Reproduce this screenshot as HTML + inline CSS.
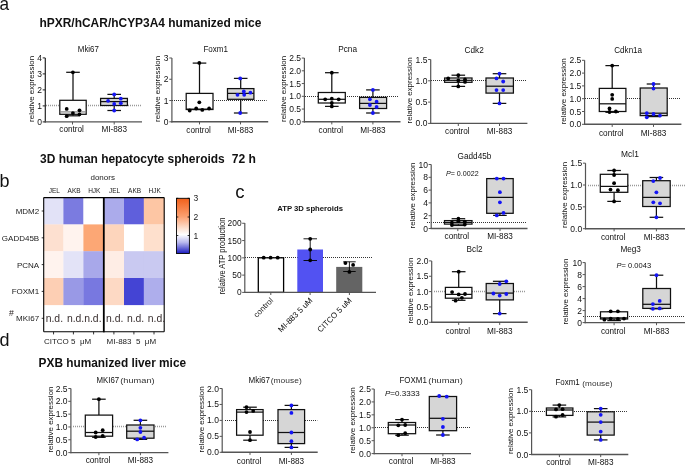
<!DOCTYPE html>
<html><head><meta charset="utf-8"><title>Figure</title>
<style>
html,body{margin:0;padding:0;background:#fff;}
body{width:685px;height:465px;overflow:hidden;}
svg{display:block;will-change:transform;font-family:"Liberation Sans",sans-serif;}
</style></head><body>
<svg width="685" height="465" viewBox="0 0 685 465" fill="#111">
<rect width="685" height="465" fill="#fff"/>
<text x="-0.4" y="10.1" font-size="18.6" textLength="9.6" lengthAdjust="spacingAndGlyphs">a</text>
<text x="39.5" y="26.9" font-size="12" textLength="221.8" lengthAdjust="spacingAndGlyphs" font-weight="bold">hPXR/hCAR/hCYP3A4 humanized mice</text>
<line x1="46" y1="105.5" x2="141" y2="105.5" stroke="#999" stroke-width="1.5" stroke-dasharray="1 1"/>
<line x1="73" y1="72.3" x2="73" y2="100.3" stroke="#111" stroke-width="1.25"/>
<line x1="73" y1="114.3" x2="73" y2="115.8" stroke="#111" stroke-width="1.25"/>
<line x1="66.2" y1="72.3" x2="79.8" y2="72.3" stroke="#111" stroke-width="1.25"/>
<line x1="66.2" y1="115.8" x2="79.8" y2="115.8" stroke="#111" stroke-width="1.25"/>
<rect x="59.8" y="100.3" width="26.4" height="14" fill="#fff" stroke="#111" stroke-width="1.25"/>
<line x1="59.8" y1="111.9" x2="86.2" y2="111.9" stroke="#888" stroke-width="1.25"/>
<circle cx="66.7" cy="108.9" r="1.9" fill="#000"/>
<circle cx="72.9" cy="72.3" r="1.9" fill="#000"/>
<circle cx="72.9" cy="113.1" r="1.9" fill="#000"/>
<circle cx="79.5" cy="110.3" r="1.9" fill="#000"/>
<circle cx="79.5" cy="114.3" r="1.9" fill="#000"/>
<circle cx="66.7" cy="116.2" r="1.9" fill="#000"/>
<line x1="114.2" y1="94.4" x2="114.2" y2="98.4" stroke="#111" stroke-width="1.25"/>
<line x1="114.2" y1="105.5" x2="114.2" y2="110.5" stroke="#111" stroke-width="1.25"/>
<line x1="107.4" y1="94.4" x2="121" y2="94.4" stroke="#111" stroke-width="1.25"/>
<line x1="107.4" y1="110.5" x2="121" y2="110.5" stroke="#111" stroke-width="1.25"/>
<rect x="100.6" y="98.4" width="26.8" height="7.1" fill="#d6d6d6" stroke="#111" stroke-width="1.25"/>
<line x1="100.6" y1="101.6" x2="127.4" y2="101.6" stroke="#111" stroke-width="1.25"/>
<circle cx="114.2" cy="94.4" r="1.9" fill="#1515f5"/>
<circle cx="108.1" cy="100.8" r="1.9" fill="#1515f5"/>
<circle cx="120.8" cy="98.7" r="1.9" fill="#1515f5"/>
<circle cx="120.8" cy="103.2" r="1.9" fill="#1515f5"/>
<circle cx="114.2" cy="103.9" r="1.9" fill="#1515f5"/>
<circle cx="114.2" cy="110.5" r="1.9" fill="#1515f5"/>
<line x1="45.3" y1="57.9" x2="45.3" y2="122.5" stroke="#222" stroke-width="1.2"/>
<line x1="42.7" y1="121.9" x2="45.3" y2="121.9" stroke="#222" stroke-width="1"/>
<text x="42" y="124.9" font-size="8.5" text-anchor="end">0</text>
<line x1="42.7" y1="105.9" x2="45.3" y2="105.9" stroke="#222" stroke-width="1"/>
<text x="42" y="108.9" font-size="8.5" text-anchor="end">1</text>
<line x1="42.7" y1="89.9" x2="45.3" y2="89.9" stroke="#222" stroke-width="1"/>
<text x="42" y="92.9" font-size="8.5" text-anchor="end">2</text>
<line x1="42.7" y1="73.9" x2="45.3" y2="73.9" stroke="#222" stroke-width="1"/>
<text x="42" y="76.9" font-size="8.5" text-anchor="end">3</text>
<line x1="42.7" y1="57.9" x2="45.3" y2="57.9" stroke="#222" stroke-width="1"/>
<text x="42" y="60.9" font-size="8.5" text-anchor="end">4</text>
<line x1="44.7" y1="121.9" x2="142" y2="121.9" stroke="#555" stroke-width="1.4"/>
<text x="34.2" y="88.9" font-size="8.1" textLength="66" lengthAdjust="spacingAndGlyphs" text-anchor="middle" transform="rotate(-90 34.2 88.9)">relative expression</text>
<text x="77.8" y="51.8" font-size="8.5" textLength="21.1" lengthAdjust="spacingAndGlyphs">Mki67</text>
<line x1="72.5" y1="121.9" x2="72.5" y2="124.5" stroke="#555" stroke-width="1"/>
<text x="71.6" y="132.4" font-size="8.2" text-anchor="middle">control</text>
<line x1="114.2" y1="121.9" x2="114.2" y2="124.5" stroke="#555" stroke-width="1"/>
<text x="114.2" y="132.4" font-size="8.2" text-anchor="middle">MI-883</text>
<line x1="172" y1="100.5" x2="266.6" y2="100.5" stroke="#333" stroke-width="1.05" stroke-dasharray="1 1"/>
<line x1="199.5" y1="63.1" x2="199.5" y2="93.4" stroke="#111" stroke-width="1.25"/>
<line x1="199.5" y1="109.5" x2="199.5" y2="109.5" stroke="#111" stroke-width="1.25"/>
<line x1="192.7" y1="63.1" x2="206.3" y2="63.1" stroke="#111" stroke-width="1.25"/>
<line x1="192.7" y1="109.5" x2="206.3" y2="109.5" stroke="#111" stroke-width="1.25"/>
<rect x="186.2" y="93.4" width="26.8" height="16.1" fill="#fff" stroke="#111" stroke-width="1.25"/>
<line x1="186.2" y1="109.2" x2="213" y2="109.2" stroke="#111" stroke-width="1.25"/>
<circle cx="189.7" cy="110.5" r="1.9" fill="#000"/>
<circle cx="196.2" cy="108.5" r="1.9" fill="#000"/>
<circle cx="199.3" cy="102.3" r="1.9" fill="#000"/>
<circle cx="202.3" cy="109.9" r="1.9" fill="#000"/>
<circle cx="209.1" cy="108.5" r="1.9" fill="#000"/>
<circle cx="199.3" cy="62.9" r="1.9" fill="#000"/>
<line x1="240.7" y1="78.4" x2="240.7" y2="88.6" stroke="#111" stroke-width="1.25"/>
<line x1="240.7" y1="99.3" x2="240.7" y2="113" stroke="#111" stroke-width="1.25"/>
<line x1="233.9" y1="78.4" x2="247.5" y2="78.4" stroke="#111" stroke-width="1.25"/>
<line x1="233.9" y1="113" x2="247.5" y2="113" stroke="#111" stroke-width="1.25"/>
<rect x="227.5" y="88.6" width="26.4" height="10.7" fill="#d6d6d6" stroke="#111" stroke-width="1.25"/>
<line x1="227.5" y1="93.4" x2="253.9" y2="93.4" stroke="#111" stroke-width="1.25"/>
<circle cx="240.2" cy="78.4" r="1.9" fill="#1515f5"/>
<circle cx="237.5" cy="94.8" r="1.9" fill="#1515f5"/>
<circle cx="243.8" cy="91.5" r="1.9" fill="#1515f5"/>
<circle cx="244.2" cy="94.8" r="1.9" fill="#1515f5"/>
<circle cx="250.4" cy="92.7" r="1.9" fill="#1515f5"/>
<circle cx="240.2" cy="113" r="1.9" fill="#1515f5"/>
<line x1="171.9" y1="57.99" x2="171.9" y2="122.4" stroke="#555" stroke-width="1.2"/>
<line x1="169.3" y1="121.8" x2="171.9" y2="121.8" stroke="#555" stroke-width="1"/>
<text x="168.6" y="124.8" font-size="8.5" text-anchor="end">0</text>
<line x1="169.3" y1="100.53" x2="171.9" y2="100.53" stroke="#555" stroke-width="1"/>
<text x="168.6" y="103.53" font-size="8.5" text-anchor="end">1</text>
<line x1="169.3" y1="79.26" x2="171.9" y2="79.26" stroke="#555" stroke-width="1"/>
<text x="168.6" y="82.26" font-size="8.5" text-anchor="end">2</text>
<line x1="169.3" y1="57.99" x2="171.9" y2="57.99" stroke="#555" stroke-width="1"/>
<text x="168.6" y="60.99" font-size="8.5" text-anchor="end">3</text>
<line x1="171.3" y1="121.8" x2="268.2" y2="121.8" stroke="#555" stroke-width="1.4"/>
<text x="159.9" y="88.89" font-size="8.1" textLength="66" lengthAdjust="spacingAndGlyphs" text-anchor="middle" transform="rotate(-90 159.9 88.89)">relative expression</text>
<text x="203.4" y="51.7" font-size="8.5" textLength="24.5" lengthAdjust="spacingAndGlyphs">Foxm1</text>
<line x1="199.5" y1="121.8" x2="199.5" y2="124.4" stroke="#555" stroke-width="1"/>
<text x="198.6" y="132.6" font-size="8.2" text-anchor="middle">control</text>
<line x1="240.5" y1="121.8" x2="240.5" y2="124.4" stroke="#555" stroke-width="1"/>
<text x="240.5" y="132.6" font-size="8.2" text-anchor="middle">MI-883</text>
<line x1="305" y1="96.5" x2="399" y2="96.5" stroke="#333" stroke-width="1.05" stroke-dasharray="1 1"/>
<line x1="331.8" y1="72.7" x2="331.8" y2="92.5" stroke="#111" stroke-width="1.25"/>
<line x1="331.8" y1="103" x2="331.8" y2="106.4" stroke="#111" stroke-width="1.25"/>
<line x1="325" y1="72.7" x2="338.6" y2="72.7" stroke="#111" stroke-width="1.25"/>
<line x1="325" y1="106.4" x2="338.6" y2="106.4" stroke="#111" stroke-width="1.25"/>
<rect x="318.3" y="92.5" width="27" height="10.5" fill="#fff" stroke="#111" stroke-width="1.25"/>
<line x1="318.3" y1="99.3" x2="345.3" y2="99.3" stroke="#111" stroke-width="1.25"/>
<circle cx="331.8" cy="72.7" r="1.9" fill="#000"/>
<circle cx="325.2" cy="99.3" r="1.9" fill="#000"/>
<circle cx="331.8" cy="98.7" r="1.9" fill="#000"/>
<circle cx="338.7" cy="99.3" r="1.9" fill="#000"/>
<circle cx="331.8" cy="103" r="1.9" fill="#000"/>
<circle cx="331.8" cy="106.4" r="1.9" fill="#000"/>
<line x1="372.9" y1="89.9" x2="372.9" y2="97.4" stroke="#111" stroke-width="1.25"/>
<line x1="372.9" y1="108.5" x2="372.9" y2="113" stroke="#111" stroke-width="1.25"/>
<line x1="366.1" y1="89.9" x2="379.7" y2="89.9" stroke="#111" stroke-width="1.25"/>
<line x1="366.1" y1="113" x2="379.7" y2="113" stroke="#111" stroke-width="1.25"/>
<rect x="359.6" y="97.4" width="27" height="11.1" fill="#d6d6d6" stroke="#111" stroke-width="1.25"/>
<line x1="359.6" y1="103.4" x2="386.6" y2="103.4" stroke="#111" stroke-width="1.25"/>
<circle cx="372.9" cy="89.9" r="1.9" fill="#1515f5"/>
<circle cx="369.9" cy="99.3" r="1.9" fill="#1515f5"/>
<circle cx="376.6" cy="101.7" r="1.9" fill="#1515f5"/>
<circle cx="369.9" cy="105" r="1.9" fill="#1515f5"/>
<circle cx="376.6" cy="107" r="1.9" fill="#1515f5"/>
<circle cx="372.9" cy="113" r="1.9" fill="#1515f5"/>
<line x1="304.4" y1="58.05" x2="304.4" y2="122.4" stroke="#555" stroke-width="1.2"/>
<line x1="301.8" y1="121.8" x2="304.4" y2="121.8" stroke="#555" stroke-width="1"/>
<text x="301.1" y="124.8" font-size="8.5" text-anchor="end">0.0</text>
<line x1="301.8" y1="109.05" x2="304.4" y2="109.05" stroke="#555" stroke-width="1"/>
<text x="301.1" y="112.05" font-size="8.5" text-anchor="end">0.5</text>
<line x1="301.8" y1="96.3" x2="304.4" y2="96.3" stroke="#555" stroke-width="1"/>
<text x="301.1" y="99.3" font-size="8.5" text-anchor="end">1.0</text>
<line x1="301.8" y1="83.55" x2="304.4" y2="83.55" stroke="#555" stroke-width="1"/>
<text x="301.1" y="86.55" font-size="8.5" text-anchor="end">1.5</text>
<line x1="301.8" y1="70.8" x2="304.4" y2="70.8" stroke="#555" stroke-width="1"/>
<text x="301.1" y="73.8" font-size="8.5" text-anchor="end">2.0</text>
<line x1="301.8" y1="58.05" x2="304.4" y2="58.05" stroke="#555" stroke-width="1"/>
<text x="301.1" y="61.05" font-size="8.5" text-anchor="end">2.5</text>
<line x1="303.8" y1="121.8" x2="400.5" y2="121.8" stroke="#555" stroke-width="1.4"/>
<text x="285.9" y="88.92" font-size="8.1" textLength="66" lengthAdjust="spacingAndGlyphs" text-anchor="middle" transform="rotate(-90 285.9 88.92)">relative expression</text>
<text x="338.2" y="51.7" font-size="8.5" textLength="18.8" lengthAdjust="spacingAndGlyphs">Pcna</text>
<line x1="331.8" y1="121.8" x2="331.8" y2="124.4" stroke="#555" stroke-width="1"/>
<text x="330.9" y="132.5" font-size="8.2" text-anchor="middle">control</text>
<line x1="372.9" y1="121.8" x2="372.9" y2="124.4" stroke="#555" stroke-width="1"/>
<text x="372.9" y="132.5" font-size="8.2" text-anchor="middle">MI-883</text>
<line x1="431" y1="80.5" x2="526" y2="80.5" stroke="#333" stroke-width="1.05" stroke-dasharray="1 1"/>
<line x1="458.3" y1="75.2" x2="458.3" y2="78" stroke="#111" stroke-width="1.25"/>
<line x1="458.3" y1="82.3" x2="458.3" y2="86.4" stroke="#111" stroke-width="1.25"/>
<line x1="451.5" y1="75.2" x2="465.1" y2="75.2" stroke="#111" stroke-width="1.25"/>
<line x1="451.5" y1="86.4" x2="465.1" y2="86.4" stroke="#111" stroke-width="1.25"/>
<rect x="444.6" y="78" width="27.4" height="4.3" fill="#fff" stroke="#111" stroke-width="1.25"/>
<line x1="444.6" y1="80.3" x2="472" y2="80.3" stroke="#111" stroke-width="1.25"/>
<circle cx="448.2" cy="78.4" r="1.9" fill="#000"/>
<circle cx="458.3" cy="75.2" r="1.9" fill="#000"/>
<circle cx="458.3" cy="80.5" r="1.9" fill="#000"/>
<circle cx="465" cy="79.5" r="1.9" fill="#000"/>
<circle cx="465" cy="81.9" r="1.9" fill="#000"/>
<circle cx="458.3" cy="86.4" r="1.9" fill="#000"/>
<line x1="499.5" y1="73.7" x2="499.5" y2="78" stroke="#111" stroke-width="1.25"/>
<line x1="499.5" y1="93.1" x2="499.5" y2="103.4" stroke="#111" stroke-width="1.25"/>
<line x1="492.7" y1="73.7" x2="506.3" y2="73.7" stroke="#111" stroke-width="1.25"/>
<line x1="492.7" y1="103.4" x2="506.3" y2="103.4" stroke="#111" stroke-width="1.25"/>
<rect x="486" y="78" width="27.4" height="15.1" fill="#d6d6d6" stroke="#111" stroke-width="1.25"/>
<line x1="486" y1="86.2" x2="513.4" y2="86.2" stroke="#111" stroke-width="1.25"/>
<circle cx="499.5" cy="73.7" r="1.9" fill="#1515f5"/>
<circle cx="496.5" cy="78.4" r="1.9" fill="#1515f5"/>
<circle cx="503.2" cy="81.5" r="1.9" fill="#1515f5"/>
<circle cx="496.5" cy="90.1" r="1.9" fill="#1515f5"/>
<circle cx="503.2" cy="90.1" r="1.9" fill="#1515f5"/>
<circle cx="499.5" cy="103.4" r="1.9" fill="#1515f5"/>
<line x1="430.7" y1="59.5" x2="430.7" y2="124" stroke="#555" stroke-width="1.2"/>
<line x1="428.1" y1="123.4" x2="430.7" y2="123.4" stroke="#555" stroke-width="1"/>
<text x="427.4" y="126.4" font-size="8.5" text-anchor="end">0.0</text>
<line x1="428.1" y1="102.1" x2="430.7" y2="102.1" stroke="#555" stroke-width="1"/>
<text x="427.4" y="105.1" font-size="8.5" text-anchor="end">0.5</text>
<line x1="428.1" y1="80.8" x2="430.7" y2="80.8" stroke="#555" stroke-width="1"/>
<text x="427.4" y="83.8" font-size="8.5" text-anchor="end">1.0</text>
<line x1="428.1" y1="59.5" x2="430.7" y2="59.5" stroke="#555" stroke-width="1"/>
<text x="427.4" y="62.5" font-size="8.5" text-anchor="end">1.5</text>
<line x1="430.1" y1="123.4" x2="527.4" y2="123.4" stroke="#555" stroke-width="1.4"/>
<text x="412.1" y="90.45" font-size="8.1" textLength="66" lengthAdjust="spacingAndGlyphs" text-anchor="middle" transform="rotate(-90 412.1 90.45)">relative expression</text>
<text x="464.6" y="52.7" font-size="8.5" textLength="19.2" lengthAdjust="spacingAndGlyphs">Cdk2</text>
<line x1="458.3" y1="123.4" x2="458.3" y2="126" stroke="#555" stroke-width="1"/>
<text x="457.4" y="133.6" font-size="8.2" text-anchor="middle">control</text>
<line x1="499.5" y1="123.4" x2="499.5" y2="126" stroke="#555" stroke-width="1"/>
<text x="499.5" y="133.6" font-size="8.2" text-anchor="middle">MI-883</text>
<line x1="585" y1="98.5" x2="680" y2="98.5" stroke="#333" stroke-width="1.05" stroke-dasharray="1 1"/>
<line x1="612.2" y1="65.6" x2="612.2" y2="88.4" stroke="#111" stroke-width="1.25"/>
<line x1="612.2" y1="111.5" x2="612.2" y2="112.3" stroke="#111" stroke-width="1.25"/>
<line x1="605.4" y1="65.6" x2="619" y2="65.6" stroke="#111" stroke-width="1.25"/>
<line x1="605.4" y1="112.3" x2="619" y2="112.3" stroke="#111" stroke-width="1.25"/>
<rect x="599.3" y="88.4" width="26.6" height="23.1" fill="#fff" stroke="#111" stroke-width="1.25"/>
<line x1="599.3" y1="103.8" x2="625.9" y2="103.8" stroke="#111" stroke-width="1.25"/>
<circle cx="612.2" cy="65.6" r="1.9" fill="#000"/>
<circle cx="612.2" cy="94.8" r="1.9" fill="#000"/>
<circle cx="612.2" cy="98.9" r="1.9" fill="#000"/>
<circle cx="609.5" cy="108.5" r="1.9" fill="#000"/>
<circle cx="609.5" cy="112" r="1.9" fill="#000"/>
<circle cx="615.9" cy="111.5" r="1.9" fill="#000"/>
<line x1="653.5" y1="84" x2="653.5" y2="88" stroke="#111" stroke-width="1.25"/>
<line x1="653.5" y1="115.6" x2="653.5" y2="116.6" stroke="#111" stroke-width="1.25"/>
<line x1="646.7" y1="84" x2="660.3" y2="84" stroke="#111" stroke-width="1.25"/>
<line x1="646.7" y1="116.6" x2="660.3" y2="116.6" stroke="#111" stroke-width="1.25"/>
<rect x="640.2" y="88" width="27" height="27.6" fill="#d6d6d6" stroke="#111" stroke-width="1.25"/>
<line x1="640.2" y1="113.2" x2="667.2" y2="113.2" stroke="#111" stroke-width="1.25"/>
<circle cx="653.5" cy="84" r="1.9" fill="#1515f5"/>
<circle cx="653.5" cy="88.6" r="1.9" fill="#1515f5"/>
<circle cx="646.8" cy="113.2" r="1.9" fill="#1515f5"/>
<circle cx="653.5" cy="114" r="1.9" fill="#1515f5"/>
<circle cx="660" cy="115.6" r="1.9" fill="#1515f5"/>
<circle cx="646.8" cy="117.3" r="1.9" fill="#1515f5"/>
<line x1="584.6" y1="60.3" x2="584.6" y2="124.9" stroke="#555" stroke-width="1.2"/>
<line x1="582" y1="124.3" x2="584.6" y2="124.3" stroke="#555" stroke-width="1"/>
<text x="581.3" y="127.3" font-size="8.5" text-anchor="end">0.0</text>
<line x1="582" y1="111.5" x2="584.6" y2="111.5" stroke="#555" stroke-width="1"/>
<text x="581.3" y="114.5" font-size="8.5" text-anchor="end">0.5</text>
<line x1="582" y1="98.7" x2="584.6" y2="98.7" stroke="#555" stroke-width="1"/>
<text x="581.3" y="101.7" font-size="8.5" text-anchor="end">1.0</text>
<line x1="582" y1="85.9" x2="584.6" y2="85.9" stroke="#555" stroke-width="1"/>
<text x="581.3" y="88.9" font-size="8.5" text-anchor="end">1.5</text>
<line x1="582" y1="73.1" x2="584.6" y2="73.1" stroke="#555" stroke-width="1"/>
<text x="581.3" y="76.1" font-size="8.5" text-anchor="end">2.0</text>
<line x1="582" y1="60.3" x2="584.6" y2="60.3" stroke="#555" stroke-width="1"/>
<text x="581.3" y="63.3" font-size="8.5" text-anchor="end">2.5</text>
<line x1="584" y1="124.3" x2="681.4" y2="124.3" stroke="#555" stroke-width="1.4"/>
<text x="566.1" y="91.3" font-size="8.1" textLength="66" lengthAdjust="spacingAndGlyphs" text-anchor="middle" transform="rotate(-90 566.1 91.3)">relative expression</text>
<text x="614.3" y="52.7" font-size="8.5" textLength="27.8" lengthAdjust="spacingAndGlyphs">Cdkn1a</text>
<line x1="612.2" y1="124.3" x2="612.2" y2="126.9" stroke="#555" stroke-width="1"/>
<text x="611.3" y="135.7" font-size="8.2" text-anchor="middle">control</text>
<line x1="653.5" y1="124.3" x2="653.5" y2="126.9" stroke="#555" stroke-width="1"/>
<text x="653.5" y="135.7" font-size="8.2" text-anchor="middle">MI-883</text>
<text x="-0.4" y="186.8" font-size="18">b</text>
<text x="40.1" y="163" font-size="12" textLength="184.6" lengthAdjust="spacingAndGlyphs" font-weight="bold">3D human hepatocyte spheroids</text>
<text x="231.8" y="163" font-size="12" textLength="24.2" lengthAdjust="spacingAndGlyphs" font-weight="bold">72 h</text>
<rect x="43.7" y="197.6" width="20" height="27.1" fill="#e2e2f7"/>
<rect x="63.4" y="197.6" width="20.3" height="27.1" fill="#7b7be0"/>
<rect x="83.4" y="197.6" width="20.7" height="27.1" fill="#ffffff"/>
<rect x="103.8" y="197.6" width="20.5" height="27.1" fill="#ababeb"/>
<rect x="124" y="197.6" width="20.1" height="27.1" fill="#5f5fdc"/>
<rect x="143.8" y="197.6" width="20.7" height="27.1" fill="#fdc6a4"/>
<rect x="43.7" y="224.4" width="20" height="27.1" fill="#fde0d0"/>
<rect x="63.4" y="224.4" width="20.3" height="27.1" fill="#fff3ee"/>
<rect x="83.4" y="224.4" width="20.7" height="27.1" fill="#fca775"/>
<rect x="103.8" y="224.4" width="20.5" height="27.1" fill="#fdd5bc"/>
<rect x="124" y="224.4" width="20.1" height="27.1" fill="#ffffff"/>
<rect x="143.8" y="224.4" width="20.7" height="27.1" fill="#fee0cd"/>
<rect x="43.7" y="251.2" width="20" height="27.1" fill="#fff3ee"/>
<rect x="63.4" y="251.2" width="20.3" height="27.1" fill="#e3e3f7"/>
<rect x="83.4" y="251.2" width="20.7" height="27.1" fill="#a8a8ea"/>
<rect x="103.8" y="251.2" width="20.5" height="27.1" fill="#feede5"/>
<rect x="124" y="251.2" width="20.1" height="27.1" fill="#c9c9f1"/>
<rect x="143.8" y="251.2" width="20.7" height="27.1" fill="#c9c9f1"/>
<rect x="43.7" y="278" width="20" height="27.1" fill="#fdcfb4"/>
<rect x="63.4" y="278" width="20.3" height="27.1" fill="#9999e6"/>
<rect x="83.4" y="278" width="20.7" height="27.1" fill="#7878e0"/>
<rect x="103.8" y="278" width="20.5" height="27.1" fill="#fdd9c4"/>
<rect x="124" y="278" width="20.1" height="27.1" fill="#4444d4"/>
<rect x="143.8" y="278" width="20.7" height="27.1" fill="#aeaeec"/>
<line x1="43.7" y1="197.6" x2="43.7" y2="331.8" stroke="#000" stroke-width="1.1"/>
<line x1="164.2" y1="197.6" x2="164.2" y2="331.8" stroke="#000" stroke-width="1.1"/>
<line x1="43.7" y1="197.6" x2="164.2" y2="197.6" stroke="#000" stroke-width="1.1"/>
<line x1="43.7" y1="331.8" x2="164.2" y2="331.8" stroke="#000" stroke-width="1.1"/>
<line x1="103.8" y1="197.6" x2="103.8" y2="332.3" stroke="#000" stroke-width="1.8"/>
<line x1="41.7" y1="211" x2="43.7" y2="211" stroke="#000" stroke-width="0.8"/>
<text x="39.2" y="213.9" font-size="8" text-anchor="end" fill="#222">MDM2</text>
<line x1="41.7" y1="237.8" x2="43.7" y2="237.8" stroke="#000" stroke-width="0.8"/>
<text x="39.2" y="240.7" font-size="8" text-anchor="end" fill="#222">GADD45B</text>
<line x1="41.7" y1="264.6" x2="43.7" y2="264.6" stroke="#000" stroke-width="0.8"/>
<text x="39.2" y="267.5" font-size="8" text-anchor="end" fill="#222">PCNA</text>
<line x1="41.7" y1="291.4" x2="43.7" y2="291.4" stroke="#000" stroke-width="0.8"/>
<text x="39.2" y="294.3" font-size="8" text-anchor="end" fill="#222">FOXM1</text>
<line x1="41.7" y1="318.3" x2="43.7" y2="318.3" stroke="#000" stroke-width="0.8"/>
<text x="39.2" y="321.2" font-size="8" text-anchor="end" fill="#222">MKI67</text>
<text x="9" y="315.8" font-size="8.7" fill="#2a2222">#</text>
<text x="54.25" y="192.6" font-size="6.5" text-anchor="middle" fill="#222">JEL</text>
<text x="74.1" y="192.6" font-size="6.5" text-anchor="middle" fill="#222">AKB</text>
<text x="94.3" y="192.6" font-size="6.5" text-anchor="middle" fill="#222">HJK</text>
<text x="114.6" y="192.6" font-size="6.5" text-anchor="middle" fill="#222">JEL</text>
<text x="134.6" y="192.6" font-size="6.5" text-anchor="middle" fill="#222">AKB</text>
<text x="154.7" y="192.6" font-size="6.5" text-anchor="middle" fill="#222">HJK</text>
<text x="102.7" y="179.8" font-size="8" text-anchor="middle" fill="#222">donors</text>
<text x="45.7" y="321.9" font-size="10.4" fill="#3a3030">n.d.</text>
<text x="66.9" y="321.9" font-size="10.4" fill="#3a3030">n.d.</text>
<text x="84.2" y="321.9" font-size="10.4" fill="#3a3030">n.d.</text>
<text x="106" y="321.9" font-size="10.4" fill="#3a3030">n.d.</text>
<text x="126.9" y="321.9" font-size="10.4" fill="#3a3030">n.d.</text>
<text x="147.8" y="321.9" font-size="10.4" fill="#3a3030">n.d.</text>
<line x1="53.55" y1="331.8" x2="53.55" y2="334.4" stroke="#000" stroke-width="0.8"/>
<line x1="73.4" y1="331.8" x2="73.4" y2="334.4" stroke="#000" stroke-width="0.8"/>
<line x1="93.6" y1="331.8" x2="93.6" y2="334.4" stroke="#000" stroke-width="0.8"/>
<line x1="113.9" y1="331.8" x2="113.9" y2="334.4" stroke="#000" stroke-width="0.8"/>
<line x1="133.9" y1="331.8" x2="133.9" y2="334.4" stroke="#000" stroke-width="0.8"/>
<line x1="154" y1="331.8" x2="154" y2="334.4" stroke="#000" stroke-width="0.8"/>
<text x="43.9" y="343.6" font-size="8" fill="#222">CITCO 5&#160;&#160;μM</text>
<text x="106.6" y="343.6" font-size="8" fill="#222">MI-883&#160;&#160;5&#160;&#160;μM</text>
<defs><linearGradient id="cb" x1="0" y1="0" x2="0" y2="1"><stop offset="0" stop-color="#f0601a"/><stop offset="0.33" stop-color="#fca070"/><stop offset="0.55" stop-color="#fde3d4"/><stop offset="0.66" stop-color="#ffffff"/><stop offset="0.8" stop-color="#b8b8ee"/><stop offset="1" stop-color="#1a1ac0"/></linearGradient></defs>
<rect x="176.5" y="198.3" width="12.9" height="55.2" fill="url(#cb)" stroke="#000" stroke-width="0.9"/>
<line x1="176.5" y1="198.3" x2="178.3" y2="198.3" stroke="#000" stroke-width="0.8"/>
<line x1="187.6" y1="198.3" x2="189.4" y2="198.3" stroke="#000" stroke-width="0.8"/>
<text x="193.4" y="201.3" font-size="8.5" fill="#222">3</text>
<line x1="176.5" y1="217" x2="178.3" y2="217" stroke="#000" stroke-width="0.8"/>
<line x1="187.6" y1="217" x2="189.4" y2="217" stroke="#000" stroke-width="0.8"/>
<text x="193.4" y="220" font-size="8.5" fill="#222">2</text>
<line x1="176.5" y1="235.5" x2="178.3" y2="235.5" stroke="#000" stroke-width="0.8"/>
<line x1="187.6" y1="235.5" x2="189.4" y2="235.5" stroke="#000" stroke-width="0.8"/>
<text x="193.4" y="238.5" font-size="8.5" fill="#222">1</text>
<text x="235.2" y="198.3" font-size="18.6">c</text>
<text x="277.2" y="210.9" font-size="7.6" textLength="65.8" lengthAdjust="spacingAndGlyphs" font-weight="bold">ATP 3D spheroids</text>
<line x1="245" y1="257.5" x2="373" y2="257.5" stroke="#333" stroke-width="1.05" stroke-dasharray="1 1"/>
<rect x="258.3" y="257.8" width="25.3" height="34.6" fill="#fff" stroke="#000" stroke-width="1.3"/>
<rect x="297.3" y="249.5" width="25.7" height="42.9" fill="#5252f2"/>
<rect x="336.2" y="266.9" width="26.1" height="25.5" fill="#646464"/>
<circle cx="263.7" cy="257.7" r="1.9" fill="#000"/>
<circle cx="270.6" cy="257.7" r="1.9" fill="#000"/>
<circle cx="277.7" cy="257.7" r="1.9" fill="#000"/>
<line x1="310.2" y1="238.8" x2="310.2" y2="260.5" stroke="#000" stroke-width="0.9"/>
<line x1="303.5" y1="238.8" x2="317" y2="238.8" stroke="#000" stroke-width="0.9"/>
<line x1="303.5" y1="260.5" x2="317" y2="260.5" stroke="#000" stroke-width="0.9"/>
<circle cx="310.2" cy="238.8" r="1.9" fill="#000"/>
<circle cx="310.2" cy="249.5" r="1.9" fill="#000"/>
<circle cx="310.2" cy="260.3" r="1.9" fill="#000"/>
<line x1="349.4" y1="261.8" x2="349.4" y2="271.5" stroke="#000" stroke-width="0.9"/>
<line x1="343.2" y1="261.8" x2="355.7" y2="261.8" stroke="#000" stroke-width="0.9"/>
<line x1="343.2" y1="271.5" x2="355.7" y2="271.5" stroke="#000" stroke-width="0.9"/>
<circle cx="345.4" cy="263.1" r="1.9" fill="#000"/>
<circle cx="353.1" cy="264.9" r="1.9" fill="#000"/>
<circle cx="349.4" cy="271.9" r="1.9" fill="#000"/>
<line x1="244.8" y1="223.1" x2="244.8" y2="293" stroke="#555" stroke-width="1.2"/>
<line x1="242.2" y1="292.4" x2="244.8" y2="292.4" stroke="#555" stroke-width="1"/>
<text x="241.6" y="295.4" font-size="8.4" text-anchor="end">0</text>
<line x1="242.2" y1="275.12" x2="244.8" y2="275.12" stroke="#555" stroke-width="1"/>
<text x="241.6" y="278.12" font-size="8.4" text-anchor="end">50</text>
<line x1="242.2" y1="257.84" x2="244.8" y2="257.84" stroke="#555" stroke-width="1"/>
<text x="241.6" y="260.84" font-size="8.4" text-anchor="end">100</text>
<line x1="242.2" y1="240.56" x2="244.8" y2="240.56" stroke="#555" stroke-width="1"/>
<text x="241.6" y="243.56" font-size="8.4" text-anchor="end">150</text>
<line x1="242.2" y1="223.28" x2="244.8" y2="223.28" stroke="#555" stroke-width="1"/>
<text x="241.6" y="226.28" font-size="8.4" text-anchor="end">200</text>
<line x1="244.2" y1="292.4" x2="376" y2="292.4" stroke="#555" stroke-width="1.4"/>
<text x="224.9" y="256.1" font-size="8.2" textLength="77" lengthAdjust="spacingAndGlyphs" text-anchor="middle" transform="rotate(-90 224.9 256.1)">relative ATP production</text>
<line x1="270.8" y1="292.4" x2="270.8" y2="295" stroke="#555" stroke-width="1"/>
<text x="273.7" y="301" font-size="8" text-anchor="end" transform="rotate(-45 273.7 301)">control</text>
<line x1="310.1" y1="292.4" x2="310.1" y2="295" stroke="#555" stroke-width="1"/>
<text x="313" y="301" font-size="8" text-anchor="end" transform="rotate(-45 313 301)">MI-883 5 uM</text>
<line x1="349.4" y1="292.4" x2="349.4" y2="295" stroke="#555" stroke-width="1"/>
<text x="352.3" y="301" font-size="8" text-anchor="end" transform="rotate(-45 352.3 301)">CITCO 5 uM</text>
<line x1="427" y1="222.5" x2="527" y2="222.5" stroke="#333" stroke-width="1.05" stroke-dasharray="1 1"/>
<line x1="458.4" y1="218.7" x2="458.4" y2="220.6" stroke="#111" stroke-width="1.25"/>
<line x1="458.4" y1="224.1" x2="458.4" y2="225.5" stroke="#111" stroke-width="1.25"/>
<line x1="451.6" y1="218.7" x2="465.2" y2="218.7" stroke="#111" stroke-width="1.25"/>
<line x1="451.6" y1="225.5" x2="465.2" y2="225.5" stroke="#111" stroke-width="1.25"/>
<rect x="444.5" y="220.6" width="27.5" height="3.5" fill="#fff" stroke="#111" stroke-width="1.25"/>
<line x1="444.5" y1="222.4" x2="472" y2="222.4" stroke="#111" stroke-width="1.25"/>
<circle cx="451.9" cy="222.6" r="1.9" fill="#000"/>
<circle cx="458.4" cy="218.7" r="1.9" fill="#000"/>
<circle cx="458.4" cy="221.2" r="1.9" fill="#000"/>
<circle cx="464.8" cy="221.6" r="1.9" fill="#000"/>
<circle cx="464.8" cy="224.5" r="1.9" fill="#000"/>
<circle cx="451.9" cy="225.1" r="1.9" fill="#000"/>
<line x1="499.9" y1="178.5" x2="499.9" y2="178.6" stroke="#111" stroke-width="1.25"/>
<line x1="499.9" y1="213.3" x2="499.9" y2="215.4" stroke="#111" stroke-width="1.25"/>
<line x1="493.1" y1="178.5" x2="506.7" y2="178.5" stroke="#111" stroke-width="1.25"/>
<line x1="493.1" y1="215.4" x2="506.7" y2="215.4" stroke="#111" stroke-width="1.25"/>
<rect x="486.7" y="178.6" width="26.5" height="34.7" fill="#d6d6d6" stroke="#111" stroke-width="1.25"/>
<line x1="486.7" y1="197.4" x2="513.2" y2="197.4" stroke="#111" stroke-width="1.25"/>
<circle cx="496.8" cy="178.6" r="1.9" fill="#1515f5"/>
<circle cx="503.5" cy="178.6" r="1.9" fill="#1515f5"/>
<circle cx="499.9" cy="192.2" r="1.9" fill="#1515f5"/>
<circle cx="499.9" cy="202.3" r="1.9" fill="#1515f5"/>
<circle cx="503.5" cy="212.9" r="1.9" fill="#1515f5"/>
<circle cx="496.8" cy="215.4" r="1.9" fill="#1515f5"/>
<line x1="431.2" y1="164.5" x2="431.2" y2="229.1" stroke="#555" stroke-width="1.2"/>
<line x1="428.6" y1="228.5" x2="431.2" y2="228.5" stroke="#555" stroke-width="1"/>
<text x="427.9" y="231.5" font-size="8.5" text-anchor="end">0</text>
<line x1="428.6" y1="215.7" x2="431.2" y2="215.7" stroke="#555" stroke-width="1"/>
<text x="427.9" y="218.7" font-size="8.5" text-anchor="end">2</text>
<line x1="428.6" y1="202.9" x2="431.2" y2="202.9" stroke="#555" stroke-width="1"/>
<text x="427.9" y="205.9" font-size="8.5" text-anchor="end">4</text>
<line x1="428.6" y1="190.1" x2="431.2" y2="190.1" stroke="#555" stroke-width="1"/>
<text x="427.9" y="193.1" font-size="8.5" text-anchor="end">6</text>
<line x1="428.6" y1="177.3" x2="431.2" y2="177.3" stroke="#555" stroke-width="1"/>
<text x="427.9" y="180.3" font-size="8.5" text-anchor="end">8</text>
<line x1="428.6" y1="164.5" x2="431.2" y2="164.5" stroke="#555" stroke-width="1"/>
<text x="427.9" y="167.5" font-size="8.5" text-anchor="end">10</text>
<line x1="430.6" y1="228.5" x2="527.5" y2="228.5" stroke="#555" stroke-width="1.4"/>
<text x="414.6" y="195.5" font-size="8.1" textLength="66" lengthAdjust="spacingAndGlyphs" text-anchor="middle" transform="rotate(-90 414.6 195.5)">relative expression</text>
<text x="457.6" y="158.7" font-size="8.5" textLength="33.8" lengthAdjust="spacingAndGlyphs">Gadd45b</text>
<line x1="457.8" y1="228.5" x2="457.8" y2="231.1" stroke="#555" stroke-width="1"/>
<text x="456.9" y="238.6" font-size="8.2" text-anchor="middle">control</text>
<line x1="500" y1="228.5" x2="500" y2="231.1" stroke="#555" stroke-width="1"/>
<text x="500" y="238.6" font-size="8.2" text-anchor="middle">MI-883</text>
<text x="446" y="175.7" font-size="7.8" textLength="32.6" lengthAdjust="spacingAndGlyphs"><tspan font-style="italic">P</tspan>= 0.0022</text>
<line x1="588" y1="185.5" x2="685" y2="185.5" stroke="#999" stroke-width="1.5" stroke-dasharray="1 1"/>
<line x1="614.1" y1="170.5" x2="614.1" y2="174.3" stroke="#111" stroke-width="1.25"/>
<line x1="614.1" y1="192.3" x2="614.1" y2="201.4" stroke="#111" stroke-width="1.25"/>
<line x1="607.3" y1="170.5" x2="620.9" y2="170.5" stroke="#111" stroke-width="1.25"/>
<line x1="607.3" y1="201.4" x2="620.9" y2="201.4" stroke="#111" stroke-width="1.25"/>
<rect x="600.3" y="174.3" width="27.5" height="18" fill="#fff" stroke="#111" stroke-width="1.25"/>
<line x1="600.3" y1="186.4" x2="627.8" y2="186.4" stroke="#111" stroke-width="1.25"/>
<circle cx="614.1" cy="170.5" r="1.9" fill="#000"/>
<circle cx="614.1" cy="175" r="1.9" fill="#000"/>
<circle cx="614.1" cy="183.2" r="1.9" fill="#000"/>
<circle cx="610.5" cy="189.6" r="1.9" fill="#000"/>
<circle cx="617.9" cy="190.2" r="1.9" fill="#000"/>
<circle cx="614.1" cy="201.4" r="1.9" fill="#000"/>
<line x1="656.4" y1="177.5" x2="656.4" y2="180.7" stroke="#111" stroke-width="1.25"/>
<line x1="656.4" y1="206.5" x2="656.4" y2="217.3" stroke="#111" stroke-width="1.25"/>
<line x1="649.6" y1="177.5" x2="663.2" y2="177.5" stroke="#111" stroke-width="1.25"/>
<line x1="649.6" y1="217.3" x2="663.2" y2="217.3" stroke="#111" stroke-width="1.25"/>
<rect x="642.7" y="180.7" width="27.5" height="25.8" fill="#d6d6d6" stroke="#111" stroke-width="1.25"/>
<line x1="642.7" y1="197.4" x2="670.2" y2="197.4" stroke="#111" stroke-width="1.25"/>
<circle cx="660" cy="178" r="1.9" fill="#1515f5"/>
<circle cx="653.3" cy="181.1" r="1.9" fill="#1515f5"/>
<circle cx="656.4" cy="192.3" r="1.9" fill="#1515f5"/>
<circle cx="653.3" cy="202.3" r="1.9" fill="#1515f5"/>
<circle cx="660" cy="203.3" r="1.9" fill="#1515f5"/>
<circle cx="656.4" cy="217.3" r="1.9" fill="#1515f5"/>
<line x1="585.5" y1="163.15" x2="585.5" y2="229.3" stroke="#555" stroke-width="1.2"/>
<line x1="582.9" y1="228.7" x2="585.5" y2="228.7" stroke="#555" stroke-width="1"/>
<text x="582.2" y="231.7" font-size="8.5" text-anchor="end">0.0</text>
<line x1="582.9" y1="206.85" x2="585.5" y2="206.85" stroke="#555" stroke-width="1"/>
<text x="582.2" y="209.85" font-size="8.5" text-anchor="end">0.5</text>
<line x1="582.9" y1="185" x2="585.5" y2="185" stroke="#555" stroke-width="1"/>
<text x="582.2" y="188" font-size="8.5" text-anchor="end">1.0</text>
<line x1="582.9" y1="163.15" x2="585.5" y2="163.15" stroke="#555" stroke-width="1"/>
<text x="582.2" y="166.15" font-size="8.5" text-anchor="end">1.5</text>
<line x1="584.9" y1="228.7" x2="685.5" y2="228.7" stroke="#555" stroke-width="1.4"/>
<text x="566.9" y="194.92" font-size="8.1" textLength="66" lengthAdjust="spacingAndGlyphs" text-anchor="middle" transform="rotate(-90 566.9 194.92)">relative expression</text>
<text x="621.1" y="156.8" font-size="8.5" textLength="17.7" lengthAdjust="spacingAndGlyphs">Mcl1</text>
<line x1="614.1" y1="228.7" x2="614.1" y2="231.3" stroke="#555" stroke-width="1"/>
<text x="613.2" y="239.5" font-size="8.2" text-anchor="middle">control</text>
<line x1="656.4" y1="228.7" x2="656.4" y2="231.3" stroke="#555" stroke-width="1"/>
<text x="656.4" y="239.5" font-size="8.2" text-anchor="middle">MI-883</text>
<line x1="434" y1="291.5" x2="525.7" y2="291.5" stroke="#999" stroke-width="1.5" stroke-dasharray="1 1"/>
<line x1="458.7" y1="271.7" x2="458.7" y2="287.4" stroke="#111" stroke-width="1.25"/>
<line x1="458.7" y1="298.2" x2="458.7" y2="300.3" stroke="#111" stroke-width="1.25"/>
<line x1="451.9" y1="271.7" x2="465.5" y2="271.7" stroke="#111" stroke-width="1.25"/>
<line x1="451.9" y1="300.3" x2="465.5" y2="300.3" stroke="#111" stroke-width="1.25"/>
<rect x="445.4" y="287.4" width="26.5" height="10.8" fill="#fff" stroke="#111" stroke-width="1.25"/>
<line x1="445.4" y1="294.4" x2="471.9" y2="294.4" stroke="#111" stroke-width="1.25"/>
<circle cx="458.7" cy="271.7" r="1.9" fill="#000"/>
<circle cx="452.1" cy="292.1" r="1.9" fill="#000"/>
<circle cx="458.7" cy="294.4" r="1.9" fill="#000"/>
<circle cx="465" cy="294" r="1.9" fill="#000"/>
<circle cx="461.9" cy="297.8" r="1.9" fill="#000"/>
<circle cx="455.6" cy="300.7" r="1.9" fill="#000"/>
<line x1="499.7" y1="281.3" x2="499.7" y2="283.5" stroke="#111" stroke-width="1.25"/>
<line x1="499.7" y1="299.9" x2="499.7" y2="313.6" stroke="#111" stroke-width="1.25"/>
<line x1="492.9" y1="281.3" x2="506.5" y2="281.3" stroke="#111" stroke-width="1.25"/>
<line x1="492.9" y1="313.6" x2="506.5" y2="313.6" stroke="#111" stroke-width="1.25"/>
<rect x="486.2" y="283.5" width="27.2" height="16.4" fill="#d6d6d6" stroke="#111" stroke-width="1.25"/>
<line x1="486.2" y1="293.1" x2="513.4" y2="293.1" stroke="#111" stroke-width="1.25"/>
<circle cx="506.3" cy="281.3" r="1.9" fill="#1515f5"/>
<circle cx="499.7" cy="284" r="1.9" fill="#1515f5"/>
<circle cx="493.4" cy="293.5" r="1.9" fill="#1515f5"/>
<circle cx="506.3" cy="294" r="1.9" fill="#1515f5"/>
<circle cx="499.7" cy="295.6" r="1.9" fill="#1515f5"/>
<circle cx="499.7" cy="313.6" r="1.9" fill="#1515f5"/>
<line x1="431.7" y1="260.9" x2="431.7" y2="322.9" stroke="#555" stroke-width="1.2"/>
<line x1="429.1" y1="322.3" x2="431.7" y2="322.3" stroke="#555" stroke-width="1"/>
<text x="428.4" y="325.3" font-size="8.5" text-anchor="end">0.0</text>
<line x1="429.1" y1="306.95" x2="431.7" y2="306.95" stroke="#555" stroke-width="1"/>
<text x="428.4" y="309.95" font-size="8.5" text-anchor="end">0.5</text>
<line x1="429.1" y1="291.6" x2="431.7" y2="291.6" stroke="#555" stroke-width="1"/>
<text x="428.4" y="294.6" font-size="8.5" text-anchor="end">1.0</text>
<line x1="429.1" y1="276.25" x2="431.7" y2="276.25" stroke="#555" stroke-width="1"/>
<text x="428.4" y="279.25" font-size="8.5" text-anchor="end">1.5</text>
<line x1="429.1" y1="260.9" x2="431.7" y2="260.9" stroke="#555" stroke-width="1"/>
<text x="428.4" y="263.9" font-size="8.5" text-anchor="end">2.0</text>
<line x1="431.1" y1="322.3" x2="527.7" y2="322.3" stroke="#555" stroke-width="1.4"/>
<text x="412.9" y="290.6" font-size="8.1" textLength="66" lengthAdjust="spacingAndGlyphs" text-anchor="middle" transform="rotate(-90 412.9 290.6)">relative expression</text>
<text x="466.6" y="251.6" font-size="8.5" textLength="16" lengthAdjust="spacingAndGlyphs">Bcl2</text>
<line x1="458.7" y1="322.3" x2="458.7" y2="324.9" stroke="#555" stroke-width="1"/>
<text x="457.8" y="333.7" font-size="8.2" text-anchor="middle">control</text>
<line x1="499.7" y1="322.3" x2="499.7" y2="324.9" stroke="#555" stroke-width="1"/>
<text x="499.7" y="333.7" font-size="8.2" text-anchor="middle">MI-883</text>
<line x1="583" y1="316.5" x2="685" y2="316.5" stroke="#333" stroke-width="1.05" stroke-dasharray="1 1"/>
<line x1="614.1" y1="311.8" x2="614.1" y2="311.8" stroke="#111" stroke-width="1.25"/>
<line x1="614.1" y1="319" x2="614.1" y2="320.6" stroke="#111" stroke-width="1.25"/>
<line x1="607.3" y1="311.8" x2="620.9" y2="311.8" stroke="#111" stroke-width="1.25"/>
<line x1="607.3" y1="320.6" x2="620.9" y2="320.6" stroke="#111" stroke-width="1.25"/>
<rect x="600.5" y="311.8" width="27.1" height="7.2" fill="#fff" stroke="#111" stroke-width="1.25"/>
<line x1="600.5" y1="317.9" x2="627.6" y2="317.9" stroke="#111" stroke-width="1.25"/>
<circle cx="610.7" cy="311.3" r="1.9" fill="#000"/>
<circle cx="617.9" cy="311.3" r="1.9" fill="#000"/>
<circle cx="604.4" cy="319.7" r="1.9" fill="#000"/>
<circle cx="610.7" cy="318.6" r="1.9" fill="#000"/>
<circle cx="617.9" cy="319" r="1.9" fill="#000"/>
<circle cx="624" cy="318.6" r="1.9" fill="#000"/>
<line x1="656.5" y1="275.2" x2="656.5" y2="288.5" stroke="#111" stroke-width="1.25"/>
<line x1="656.5" y1="308.4" x2="656.5" y2="308.8" stroke="#111" stroke-width="1.25"/>
<line x1="649.7" y1="275.2" x2="663.3" y2="275.2" stroke="#111" stroke-width="1.25"/>
<line x1="649.7" y1="308.8" x2="663.3" y2="308.8" stroke="#111" stroke-width="1.25"/>
<rect x="642.8" y="288.5" width="27.7" height="19.9" fill="#d6d6d6" stroke="#111" stroke-width="1.25"/>
<line x1="642.8" y1="304.3" x2="670.5" y2="304.3" stroke="#111" stroke-width="1.25"/>
<circle cx="656.5" cy="275.2" r="1.9" fill="#1515f5"/>
<circle cx="659.7" cy="300.9" r="1.9" fill="#1515f5"/>
<circle cx="652.9" cy="304.1" r="1.9" fill="#1515f5"/>
<circle cx="652.9" cy="308.8" r="1.9" fill="#1515f5"/>
<circle cx="659.7" cy="308.4" r="1.9" fill="#1515f5"/>
<line x1="585.2" y1="262.6" x2="585.2" y2="323.2" stroke="#555" stroke-width="1.2"/>
<line x1="582.6" y1="322.6" x2="585.2" y2="322.6" stroke="#555" stroke-width="1"/>
<text x="581.9" y="325.6" font-size="8.5" text-anchor="end">0</text>
<line x1="582.6" y1="310.6" x2="585.2" y2="310.6" stroke="#555" stroke-width="1"/>
<text x="581.9" y="313.6" font-size="8.5" text-anchor="end">2</text>
<line x1="582.6" y1="298.6" x2="585.2" y2="298.6" stroke="#555" stroke-width="1"/>
<text x="581.9" y="301.6" font-size="8.5" text-anchor="end">4</text>
<line x1="582.6" y1="286.6" x2="585.2" y2="286.6" stroke="#555" stroke-width="1"/>
<text x="581.9" y="289.6" font-size="8.5" text-anchor="end">6</text>
<line x1="582.6" y1="274.6" x2="585.2" y2="274.6" stroke="#555" stroke-width="1"/>
<text x="581.9" y="277.6" font-size="8.5" text-anchor="end">8</text>
<line x1="582.6" y1="262.6" x2="585.2" y2="262.6" stroke="#555" stroke-width="1"/>
<text x="581.9" y="265.6" font-size="8.5" text-anchor="end">10</text>
<line x1="584.6" y1="322.6" x2="685.5" y2="322.6" stroke="#555" stroke-width="1.4"/>
<text x="568.5" y="291.6" font-size="8.1" textLength="66" lengthAdjust="spacingAndGlyphs" text-anchor="middle" transform="rotate(-90 568.5 291.6)">relative expression</text>
<text x="620.4" y="251.9" font-size="8.5" textLength="20.5" lengthAdjust="spacingAndGlyphs">Meg3</text>
<line x1="614.1" y1="322.6" x2="614.1" y2="325.2" stroke="#555" stroke-width="1"/>
<text x="613.2" y="333.8" font-size="8.2" text-anchor="middle">control</text>
<line x1="656.5" y1="322.6" x2="656.5" y2="325.2" stroke="#555" stroke-width="1"/>
<text x="656.5" y="333.8" font-size="8.2" text-anchor="middle">MI-883</text>
<text x="616.6" y="267.6" font-size="7.8" textLength="34.5" lengthAdjust="spacingAndGlyphs"><tspan font-style="italic">P</tspan>= 0.0043</text>
<text x="-0.4" y="345.9" font-size="18">d</text>
<text x="38.6" y="366.8" font-size="12" textLength="147.5" lengthAdjust="spacingAndGlyphs" font-weight="bold">PXB humanized liver mice</text>
<line x1="73" y1="426.5" x2="166.4" y2="426.5" stroke="#999" stroke-width="1.5" stroke-dasharray="1 1"/>
<line x1="98.9" y1="399.2" x2="98.9" y2="415.1" stroke="#111" stroke-width="1.25"/>
<line x1="98.9" y1="436.2" x2="98.9" y2="437.3" stroke="#111" stroke-width="1.25"/>
<line x1="92.1" y1="399.2" x2="105.7" y2="399.2" stroke="#111" stroke-width="1.25"/>
<line x1="92.1" y1="437.3" x2="105.7" y2="437.3" stroke="#111" stroke-width="1.25"/>
<rect x="85.3" y="415.1" width="27.3" height="21.1" fill="#fff" stroke="#111" stroke-width="1.25"/>
<line x1="85.3" y1="432.5" x2="112.6" y2="432.5" stroke="#111" stroke-width="1.25"/>
<circle cx="98.9" cy="399.2" r="1.9" fill="#000"/>
<circle cx="102.7" cy="430.2" r="1.9" fill="#000"/>
<circle cx="95.7" cy="432.5" r="1.9" fill="#000"/>
<circle cx="95.7" cy="437" r="1.9" fill="#000"/>
<circle cx="102.7" cy="435.8" r="1.9" fill="#000"/>
<line x1="140.4" y1="420.3" x2="140.4" y2="425" stroke="#111" stroke-width="1.25"/>
<line x1="140.4" y1="438.2" x2="140.4" y2="439.4" stroke="#111" stroke-width="1.25"/>
<line x1="133.6" y1="420.3" x2="147.2" y2="420.3" stroke="#111" stroke-width="1.25"/>
<line x1="133.6" y1="439.4" x2="147.2" y2="439.4" stroke="#111" stroke-width="1.25"/>
<rect x="126.7" y="425" width="27.3" height="13.2" fill="#d6d6d6" stroke="#111" stroke-width="1.25"/>
<line x1="126.7" y1="431.2" x2="154" y2="431.2" stroke="#111" stroke-width="1.25"/>
<circle cx="140.4" cy="420.3" r="1.9" fill="#1515f5"/>
<circle cx="140.4" cy="427.8" r="1.9" fill="#1515f5"/>
<circle cx="140.4" cy="432" r="1.9" fill="#1515f5"/>
<circle cx="137.2" cy="439.4" r="1.9" fill="#1515f5"/>
<circle cx="144.1" cy="437.7" r="1.9" fill="#1515f5"/>
<line x1="70.9" y1="388.5" x2="70.9" y2="453.2" stroke="#555" stroke-width="1.2"/>
<line x1="68.3" y1="452.6" x2="70.9" y2="452.6" stroke="#555" stroke-width="1"/>
<text x="67.6" y="455.6" font-size="8.5" text-anchor="end">0.0</text>
<line x1="68.3" y1="439.78" x2="70.9" y2="439.78" stroke="#555" stroke-width="1"/>
<text x="67.6" y="442.78" font-size="8.5" text-anchor="end">0.5</text>
<line x1="68.3" y1="426.96" x2="70.9" y2="426.96" stroke="#555" stroke-width="1"/>
<text x="67.6" y="429.96" font-size="8.5" text-anchor="end">1.0</text>
<line x1="68.3" y1="414.14" x2="70.9" y2="414.14" stroke="#555" stroke-width="1"/>
<text x="67.6" y="417.14" font-size="8.5" text-anchor="end">1.5</text>
<line x1="68.3" y1="401.32" x2="70.9" y2="401.32" stroke="#555" stroke-width="1"/>
<text x="67.6" y="404.32" font-size="8.5" text-anchor="end">2.0</text>
<line x1="68.3" y1="388.5" x2="70.9" y2="388.5" stroke="#555" stroke-width="1"/>
<text x="67.6" y="391.5" font-size="8.5" text-anchor="end">2.5</text>
<line x1="70.3" y1="452.6" x2="168.4" y2="452.6" stroke="#555" stroke-width="1.4"/>
<text x="52.9" y="419.55" font-size="8.1" textLength="66" lengthAdjust="spacingAndGlyphs" text-anchor="middle" transform="rotate(-90 52.9 419.55)">relative expression</text>
<text x="96.5" y="382.5" font-size="8.5" textLength="22.7" lengthAdjust="spacingAndGlyphs">MKI67</text>
<text x="120.3" y="382.9" font-size="8" textLength="34.3" lengthAdjust="spacingAndGlyphs" fill="#333">(human)</text>
<line x1="98.9" y1="452.6" x2="98.9" y2="455.2" stroke="#555" stroke-width="1"/>
<text x="98" y="463.1" font-size="8.2" text-anchor="middle">control</text>
<line x1="140.4" y1="452.6" x2="140.4" y2="455.2" stroke="#555" stroke-width="1"/>
<text x="140.4" y="463.1" font-size="8.2" text-anchor="middle">MI-883</text>
<line x1="225" y1="420.5" x2="317.3" y2="420.5" stroke="#333" stroke-width="1.05" stroke-dasharray="1 1"/>
<line x1="250" y1="407.2" x2="250" y2="409.6" stroke="#111" stroke-width="1.25"/>
<line x1="250" y1="435.2" x2="250" y2="440.2" stroke="#111" stroke-width="1.25"/>
<line x1="243.2" y1="407.2" x2="256.8" y2="407.2" stroke="#111" stroke-width="1.25"/>
<line x1="243.2" y1="440.2" x2="256.8" y2="440.2" stroke="#111" stroke-width="1.25"/>
<rect x="236.6" y="409.6" width="26.5" height="25.6" fill="#fff" stroke="#111" stroke-width="1.25"/>
<line x1="236.6" y1="412.1" x2="263.1" y2="412.1" stroke="#111" stroke-width="1.25"/>
<circle cx="246.5" cy="407.2" r="1.9" fill="#000"/>
<circle cx="253.2" cy="410.9" r="1.9" fill="#000"/>
<circle cx="246.5" cy="412.1" r="1.9" fill="#000"/>
<circle cx="250" cy="432" r="1.9" fill="#000"/>
<circle cx="250" cy="440.2" r="1.9" fill="#000"/>
<line x1="291.4" y1="405.4" x2="291.4" y2="409.6" stroke="#111" stroke-width="1.25"/>
<line x1="291.4" y1="443.6" x2="291.4" y2="447.4" stroke="#111" stroke-width="1.25"/>
<line x1="284.6" y1="405.4" x2="298.2" y2="405.4" stroke="#111" stroke-width="1.25"/>
<line x1="284.6" y1="447.4" x2="298.2" y2="447.4" stroke="#111" stroke-width="1.25"/>
<rect x="278" y="409.6" width="26.6" height="34" fill="#d6d6d6" stroke="#111" stroke-width="1.25"/>
<line x1="278" y1="432.5" x2="304.6" y2="432.5" stroke="#111" stroke-width="1.25"/>
<circle cx="291.4" cy="405.4" r="1.9" fill="#1515f5"/>
<circle cx="291.4" cy="412.9" r="1.9" fill="#1515f5"/>
<circle cx="291.4" cy="432.5" r="1.9" fill="#1515f5"/>
<circle cx="291.4" cy="441.2" r="1.9" fill="#1515f5"/>
<circle cx="291.4" cy="447.4" r="1.9" fill="#1515f5"/>
<line x1="222.2" y1="388.5" x2="222.2" y2="452.9" stroke="#555" stroke-width="1.2"/>
<line x1="219.6" y1="452.3" x2="222.2" y2="452.3" stroke="#555" stroke-width="1"/>
<text x="218.9" y="455.3" font-size="8.5" text-anchor="end">0.0</text>
<line x1="219.6" y1="436.35" x2="222.2" y2="436.35" stroke="#555" stroke-width="1"/>
<text x="218.9" y="439.35" font-size="8.5" text-anchor="end">0.5</text>
<line x1="219.6" y1="420.4" x2="222.2" y2="420.4" stroke="#555" stroke-width="1"/>
<text x="218.9" y="423.4" font-size="8.5" text-anchor="end">1.0</text>
<line x1="219.6" y1="404.45" x2="222.2" y2="404.45" stroke="#555" stroke-width="1"/>
<text x="218.9" y="407.45" font-size="8.5" text-anchor="end">1.5</text>
<line x1="219.6" y1="388.5" x2="222.2" y2="388.5" stroke="#555" stroke-width="1"/>
<text x="218.9" y="391.5" font-size="8.5" text-anchor="end">2.0</text>
<line x1="221.6" y1="452.3" x2="317.7" y2="452.3" stroke="#555" stroke-width="1.4"/>
<text x="203.7" y="419.4" font-size="8.1" textLength="66" lengthAdjust="spacingAndGlyphs" text-anchor="middle" transform="rotate(-90 203.7 419.4)">relative expression</text>
<text x="248.6" y="382.7" font-size="8.5" textLength="21.4" lengthAdjust="spacingAndGlyphs">Mki67</text>
<text x="270.8" y="383.2" font-size="7.4" textLength="30.9" lengthAdjust="spacingAndGlyphs" fill="#333">(mouse)</text>
<line x1="250" y1="452.3" x2="250" y2="454.9" stroke="#555" stroke-width="1"/>
<text x="249.1" y="463.6" font-size="8.2" text-anchor="middle">control</text>
<line x1="291.4" y1="452.3" x2="291.4" y2="454.9" stroke="#555" stroke-width="1"/>
<text x="291.4" y="463.6" font-size="8.2" text-anchor="middle">MI-883</text>
<line x1="375" y1="427.5" x2="470.2" y2="427.5" stroke="#333" stroke-width="1.05" stroke-dasharray="1 1"/>
<line x1="402" y1="419.6" x2="402" y2="422.5" stroke="#111" stroke-width="1.25"/>
<line x1="402" y1="433.7" x2="402" y2="435.2" stroke="#111" stroke-width="1.25"/>
<line x1="395.2" y1="419.6" x2="408.8" y2="419.6" stroke="#111" stroke-width="1.25"/>
<line x1="395.2" y1="435.2" x2="408.8" y2="435.2" stroke="#111" stroke-width="1.25"/>
<rect x="388.3" y="422.5" width="27.3" height="11.2" fill="#fff" stroke="#111" stroke-width="1.25"/>
<line x1="388.3" y1="425" x2="415.6" y2="425" stroke="#111" stroke-width="1.25"/>
<circle cx="402" cy="419.6" r="1.9" fill="#000"/>
<circle cx="398.3" cy="425.3" r="1.9" fill="#000"/>
<circle cx="405.2" cy="425" r="1.9" fill="#000"/>
<circle cx="405.2" cy="433.2" r="1.9" fill="#000"/>
<circle cx="398.3" cy="435.2" r="1.9" fill="#000"/>
<line x1="442.9" y1="396.5" x2="442.9" y2="396.5" stroke="#111" stroke-width="1.25"/>
<line x1="442.9" y1="430.7" x2="442.9" y2="435" stroke="#111" stroke-width="1.25"/>
<line x1="436.1" y1="396.5" x2="449.7" y2="396.5" stroke="#111" stroke-width="1.25"/>
<line x1="436.1" y1="435" x2="449.7" y2="435" stroke="#111" stroke-width="1.25"/>
<rect x="429.3" y="396.5" width="27.3" height="34.2" fill="#d6d6d6" stroke="#111" stroke-width="1.25"/>
<line x1="429.3" y1="418.3" x2="456.6" y2="418.3" stroke="#111" stroke-width="1.25"/>
<circle cx="439.2" cy="396" r="1.9" fill="#1515f5"/>
<circle cx="446.7" cy="396.7" r="1.9" fill="#1515f5"/>
<circle cx="442.9" cy="418.8" r="1.9" fill="#1515f5"/>
<circle cx="442.9" cy="427" r="1.9" fill="#1515f5"/>
<circle cx="442.9" cy="435" r="1.9" fill="#1515f5"/>
<line x1="374.2" y1="389" x2="374.2" y2="454.2" stroke="#555" stroke-width="1.2"/>
<line x1="371.6" y1="453.6" x2="374.2" y2="453.6" stroke="#555" stroke-width="1"/>
<text x="370.9" y="456.6" font-size="8.5" text-anchor="end">0.0</text>
<line x1="371.6" y1="440.68" x2="374.2" y2="440.68" stroke="#555" stroke-width="1"/>
<text x="370.9" y="443.68" font-size="8.5" text-anchor="end">0.5</text>
<line x1="371.6" y1="427.76" x2="374.2" y2="427.76" stroke="#555" stroke-width="1"/>
<text x="370.9" y="430.76" font-size="8.5" text-anchor="end">1.0</text>
<line x1="371.6" y1="414.84" x2="374.2" y2="414.84" stroke="#555" stroke-width="1"/>
<text x="370.9" y="417.84" font-size="8.5" text-anchor="end">1.5</text>
<line x1="371.6" y1="401.92" x2="374.2" y2="401.92" stroke="#555" stroke-width="1"/>
<text x="370.9" y="404.92" font-size="8.5" text-anchor="end">2.0</text>
<line x1="371.6" y1="389" x2="374.2" y2="389" stroke="#555" stroke-width="1"/>
<text x="370.9" y="392" font-size="8.5" text-anchor="end">2.5</text>
<line x1="373.6" y1="453.6" x2="471" y2="453.6" stroke="#555" stroke-width="1.4"/>
<text x="355.5" y="420.3" font-size="8.1" textLength="66" lengthAdjust="spacingAndGlyphs" text-anchor="middle" transform="rotate(-90 355.5 420.3)">relative expression</text>
<text x="399.5" y="383" font-size="8.5" textLength="27.4" lengthAdjust="spacingAndGlyphs">FOXM1</text>
<text x="428.3" y="383.2" font-size="8" textLength="34.5" lengthAdjust="spacingAndGlyphs" fill="#333">(human)</text>
<line x1="402" y1="453.6" x2="402" y2="456.2" stroke="#555" stroke-width="1"/>
<text x="401.1" y="464.1" font-size="8.2" text-anchor="middle">control</text>
<line x1="442.9" y1="453.6" x2="442.9" y2="456.2" stroke="#555" stroke-width="1"/>
<text x="442.9" y="464.1" font-size="8.2" text-anchor="middle">MI-883</text>
<text x="385" y="396.4" font-size="7.8" textLength="34.8" lengthAdjust="spacingAndGlyphs"><tspan font-style="italic">P</tspan>=0.3333</text>
<line x1="532" y1="411.5" x2="626.9" y2="411.5" stroke="#333" stroke-width="1.05" stroke-dasharray="1 1"/>
<line x1="559.4" y1="405.1" x2="559.4" y2="408" stroke="#111" stroke-width="1.25"/>
<line x1="559.4" y1="415.4" x2="559.4" y2="416.9" stroke="#111" stroke-width="1.25"/>
<line x1="552.6" y1="405.1" x2="566.2" y2="405.1" stroke="#111" stroke-width="1.25"/>
<line x1="552.6" y1="416.9" x2="566.2" y2="416.9" stroke="#111" stroke-width="1.25"/>
<rect x="546.4" y="408" width="26.5" height="7.4" fill="#fff" stroke="#111" stroke-width="1.25"/>
<line x1="546.4" y1="410" x2="572.9" y2="410" stroke="#111" stroke-width="1.25"/>
<circle cx="559.3" cy="405.1" r="1.9" fill="#000"/>
<circle cx="556" cy="409.4" r="1.9" fill="#000"/>
<circle cx="562.6" cy="409.2" r="1.9" fill="#000"/>
<circle cx="556" cy="416.7" r="1.9" fill="#000"/>
<circle cx="562.6" cy="415" r="1.9" fill="#000"/>
<line x1="600.7" y1="408.6" x2="600.7" y2="411.8" stroke="#111" stroke-width="1.25"/>
<line x1="600.7" y1="435.1" x2="600.7" y2="439.9" stroke="#111" stroke-width="1.25"/>
<line x1="593.9" y1="408.6" x2="607.5" y2="408.6" stroke="#111" stroke-width="1.25"/>
<line x1="593.9" y1="439.9" x2="607.5" y2="439.9" stroke="#111" stroke-width="1.25"/>
<rect x="587.2" y="411.8" width="27" height="23.3" fill="#d6d6d6" stroke="#111" stroke-width="1.25"/>
<line x1="587.2" y1="422.1" x2="614.2" y2="422.1" stroke="#111" stroke-width="1.25"/>
<circle cx="600.7" cy="408.6" r="1.9" fill="#1515f5"/>
<circle cx="600.7" cy="414.8" r="1.9" fill="#1515f5"/>
<circle cx="600.7" cy="422.1" r="1.9" fill="#1515f5"/>
<circle cx="600.7" cy="431.6" r="1.9" fill="#1515f5"/>
<circle cx="600.7" cy="439.9" r="1.9" fill="#1515f5"/>
<line x1="531.6" y1="389.7" x2="531.6" y2="455.1" stroke="#555" stroke-width="1.2"/>
<line x1="529" y1="454.5" x2="531.6" y2="454.5" stroke="#555" stroke-width="1"/>
<text x="528.3" y="457.5" font-size="8.5" text-anchor="end">0.0</text>
<line x1="529" y1="432.9" x2="531.6" y2="432.9" stroke="#555" stroke-width="1"/>
<text x="528.3" y="435.9" font-size="8.5" text-anchor="end">0.5</text>
<line x1="529" y1="411.3" x2="531.6" y2="411.3" stroke="#555" stroke-width="1"/>
<text x="528.3" y="414.3" font-size="8.5" text-anchor="end">1.0</text>
<line x1="529" y1="389.7" x2="531.6" y2="389.7" stroke="#555" stroke-width="1"/>
<text x="528.3" y="392.7" font-size="8.5" text-anchor="end">1.5</text>
<line x1="531" y1="454.5" x2="628.3" y2="454.5" stroke="#555" stroke-width="1.4"/>
<text x="512.7" y="421.1" font-size="8.1" textLength="66" lengthAdjust="spacingAndGlyphs" text-anchor="middle" transform="rotate(-90 512.7 421.1)">relative expression</text>
<text x="555.5" y="384.8" font-size="8.5" textLength="24.3" lengthAdjust="spacingAndGlyphs">Foxm1</text>
<text x="582.3" y="385.9" font-size="7.4" textLength="30.2" lengthAdjust="spacingAndGlyphs" fill="#333">(mouse)</text>
<line x1="559.4" y1="454.5" x2="559.4" y2="457.1" stroke="#555" stroke-width="1"/>
<text x="558.5" y="465.1" font-size="8.2" text-anchor="middle">control</text>
<line x1="600.7" y1="454.5" x2="600.7" y2="457.1" stroke="#555" stroke-width="1"/>
<text x="600.7" y="465.1" font-size="8.2" text-anchor="middle">MI-883</text>
</svg>
</body></html>
